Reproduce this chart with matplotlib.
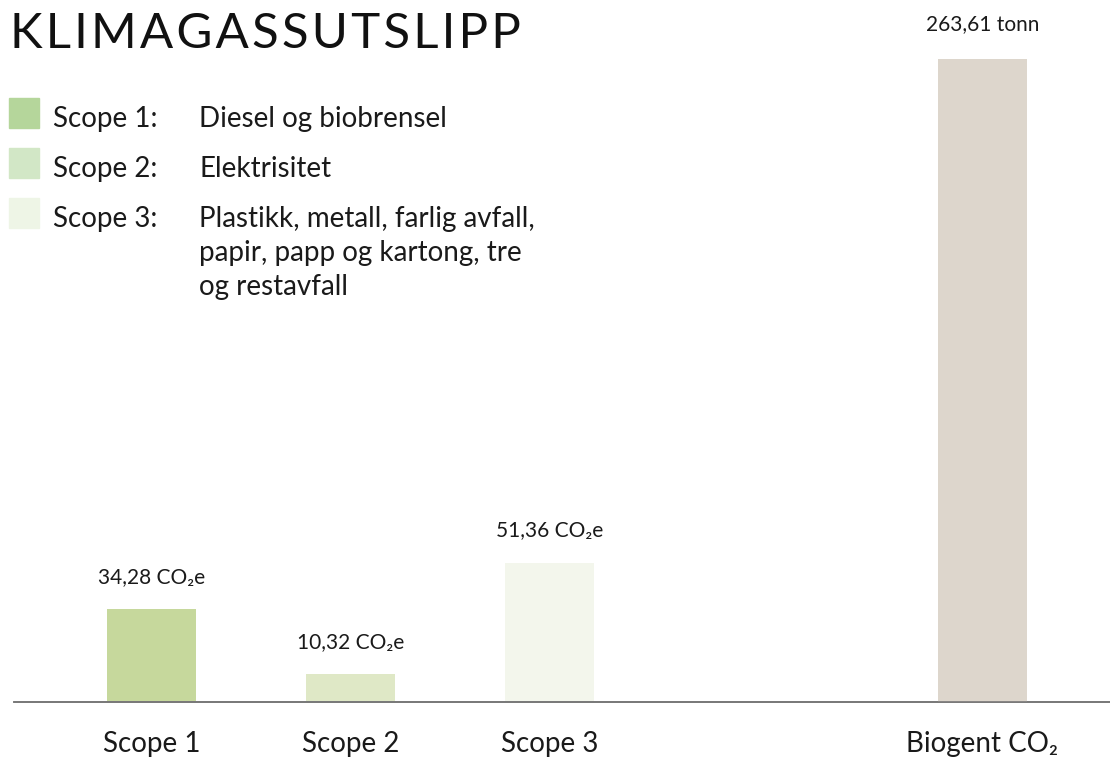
import matplotlib.pyplot as plt
from matplotlib.patches import Rectangle

plt.rcParams['font.family'] = ['Lato', 'DejaVu Sans']

# data
categories = ['Scope 1', 'Scope 2', 'Scope 3']
values = [34.28, 10.32, 51.36]
value_labels = ['34,28 CO₂e', '10,32 CO₂e', '51,36 CO₂e']
biogent_label = 'Biogent CO₂'
biogent_value = 263.61
biogent_text = '263,61 tonn'

legend_names = ['Scope 1:', 'Scope 2:', 'Scope 3:']
legend_desc = [['Diesel og biobrensel'], ['Elektrisitet'],
               ['Plastikk, metall, farlig avfall,', 'papir, papp og kartong, tre',
                'og restavfall']]

bar_colors = ['#c6d89c', '#dfe8c6', '#f3f6ec']
legend_colors = ['#b5d69b', '#d2e7c6', '#eef5e6']
biogent_color = '#ddd6cc'

W, H = 1110, 760
fig = plt.figure(figsize=(W / 100, H / 100), dpi=100)
ax = fig.add_axes([14 / W, 58 / H, 1 - 14 / W, 702 / H])
ax2 = ax.twinx()

pos = [0, 1, 2]
bio_pos = 4.176
width = 0.447

ax.bar(pos, values, width=width, color=bar_colors)
ax2.bar([bio_pos], [biogent_value], width=width, color=biogent_color)

ax.set_xlim(-0.691, 4.817)
ax.set_ylim(0, 259)
ax2.set_ylim(0, 287.8)

for x, v, t in zip(pos, values, value_labels):
    ax.annotate(t, (x, v), xytext=(0, 19), textcoords='offset points',
                ha='center', va='baseline', fontsize=15, color='#1a1a1a')
ax2.annotate(biogent_text, (bio_pos, biogent_value), xytext=(0, 21),
             textcoords='offset points', ha='center', va='baseline',
             fontsize=15, color='#1a1a1a')

ax.set_xticks(pos + [bio_pos])
ax.set_xticklabels(categories + [biogent_label], fontsize=20, color='#1a1a1a')
ax.tick_params(axis='x', length=0, pad=21)
ax.set_yticks([])
ax2.set_yticks([])
for a in (ax, ax2):
    for s in ('top', 'left', 'right'):
        a.spines[s].set_visible(False)
    a.spines['bottom'].set_color('#777777')
    a.spines['bottom'].set_linewidth(1.2)

# title
fig.text(10 / W, 1 - 48 / H, '\u200a'.join('KLIMAGASSUTSLIPP'), fontsize=35.5,
         va='baseline', ha='left', color='#111111')

# legend
ys = [127, 177, 227]
for y, c, n, d in zip(ys, legend_colors, legend_names, legend_desc):
    fig.patches.append(Rectangle((9 / W, 1 - (y + 1) / H), 30 / W, 30 / H,
                                 transform=fig.transFigure, color=c))
    fig.text(53 / W, 1 - y / H, n, fontsize=20, va='baseline', ha='left',
             color='#1a1a1a')
    for i, line in enumerate(d):
        fig.text(199 / W, 1 - (y + 34 * i) / H, line, fontsize=20,
                 va='baseline', ha='left', color='#1a1a1a')

fig.savefig('out.png', dpi=100)
